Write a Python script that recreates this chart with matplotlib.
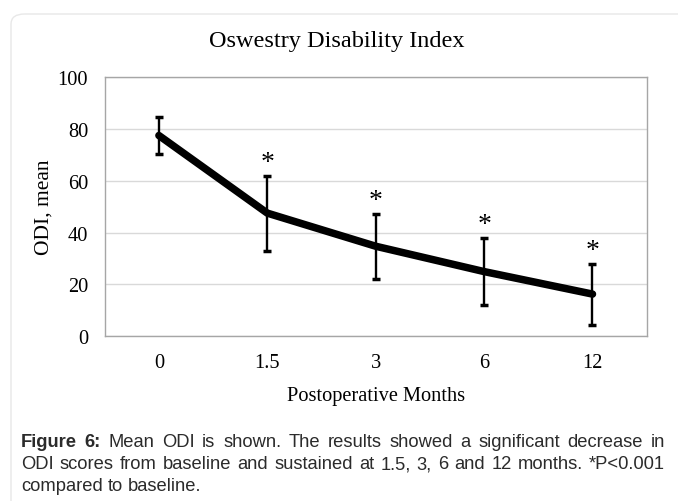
import matplotlib

matplotlib.use("Agg")
import matplotlib.pyplot as plt
from matplotlib.patches import FancyBboxPatch

# Values
months = ["0", "1.5", "3", "6", "12"]
odi_mean = [77.5, 47.5, 34.7, 24.9, 16.2]
odi_sd = [7.0, 14.5, 12.5, 13.0, 11.8]
significant = [False, True, True, True, True]
y_ticks = [0, 20, 40, 60, 80, 100]

caption_bold = "Figure 6:"
caption_lines = [
    "Mean ODI is shown. The results showed a significant decrease in",
    "ODI scores from baseline and sustained at 1.5, 3, 6 and 12 months. *P<0.001",
    "compared to baseline.",
]

W, H = 678, 502
fig = plt.figure(figsize=(W / 100, H / 100), dpi=100)
serif = "Liberation Serif"
sans = "Liberation Sans"

# faint rounded frame around chart + caption
fig.patches.append(FancyBboxPatch((11 / W, -0.1), 1.2, 1 - 15 / H + 0.1,
                                  boxstyle="round,pad=0,rounding_size=0.02",
                                  transform=fig.transFigure, fc="white",
                                  ec="#e8e8e8", lw=1.0, zorder=-5))

ax = fig.add_axes([104.7 / W, 1 - 337 / H, 542 / W, (337 - 78.3) / H])
x = list(range(len(months)))
ax.plot(x, odi_mean, color="black", lw=5.4, solid_capstyle="round", zorder=3)
ax.errorbar(x, odi_mean, yerr=odi_sd, fmt="none", ecolor="black",
            elinewidth=1.7, capsize=2.8, capthick=2.5, zorder=4)
for xi, m, s, sig in zip(x, odi_mean, odi_sd, significant):
    if sig:
        ax.text(xi, m + s + 0.2, "*", ha="center", va="bottom",
                fontsize=20, family=serif)

ax.set_xlim(-0.5, len(months) - 0.5)
ax.set_ylim(0, 100)
ax.set_yticks(y_ticks)
ax.set_xticks(x)
ax.set_xticklabels(months)
ax.tick_params(length=0, labelsize=14.7, pad=12)
for lab in ax.get_xticklabels() + ax.get_yticklabels():
    lab.set_family(serif)
ax.grid(axis="y", color="#d9d9d9", lw=1.0)
ax.set_axisbelow(True)
for sp in ax.spines.values():
    sp.set_color("#a6a6a6")
    sp.set_linewidth(1.0)

ax.set_xlabel("Postoperative Months", family=serif, fontsize=14.7, labelpad=10)
ax.set_ylabel("ODI, mean", family=serif, fontsize=15.5, labelpad=3)
fig.text(337 / W, 1 - 42 / H, "Oswestry Disability Index", ha="center",
         va="center", family=serif, fontsize=17.5)

# justified caption
renderer = fig.canvas.get_renderer()
left, right = 21, 665
fs = 13.2
line_y = [443, 465, 487]


def put_words(words, y, justify):
    items = []
    for w, bold in words:
        t = fig.text(0, 1 - y / H, w, family=sans, fontsize=fs, va="center",
                     ha="left", weight="bold" if bold else "normal", color="#2b2b2b")
        items.append(t)
    widths = [t.get_window_extent(renderer).width for t in items]
    space = fig.text(0, 0, "a b", family=sans, fontsize=fs)
    sw = space.get_window_extent(renderer).width
    space.set_text("ab")
    sw -= space.get_window_extent(renderer).width
    space.remove()
    if justify and len(items) > 1:
        gap = (right - left - sum(widths)) / (len(items) - 1)
    else:
        gap = sw
    xpos = left
    for t, wd in zip(items, widths):
        t.set_x(xpos / W)
        xpos += wd + gap


for i, line in enumerate(caption_lines):
    words = [(w, False) for w in line.split()]
    if i == 0:
        words = [(w, True) for w in caption_bold.split()] + words
    put_words(words, line_y[i], justify=(i < len(caption_lines) - 1))

fig.savefig("out.png", dpi=100)
